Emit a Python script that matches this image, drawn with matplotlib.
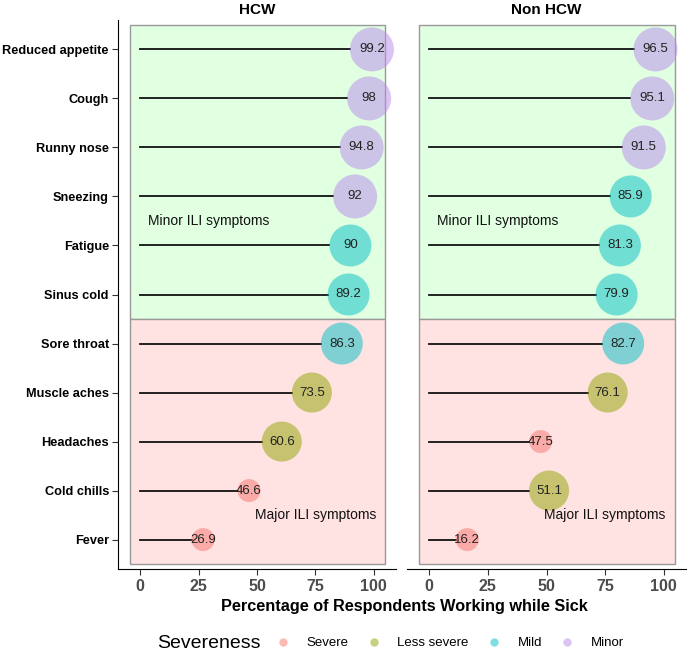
import matplotlib
matplotlib.use('Agg')
import matplotlib.pyplot as plt
from matplotlib.patches import Rectangle
from matplotlib.lines import Line2D

plt.rcParams['font.family'] = ['Liberation Sans', 'DejaVu Sans']

symptoms = ['Reduced appetite', 'Cough', 'Runny nose', 'Sneezing', 'Fatigue',
            'Sinus cold', 'Sore throat', 'Muscle aches', 'Headaches',
            'Cold chills', 'Fever']
hcw_values = [99.2, 98, 94.8, 92, 90, 89.2, 86.3, 73.5, 60.6, 46.6, 26.9]
hcw_severity = ['Minor', 'Minor', 'Minor', 'Minor', 'Mild', 'Mild', 'Mild',
                'Less severe', 'Less severe', 'Severe', 'Severe']
non_values = [96.5, 95.1, 91.5, 85.9, 81.3, 79.9, 82.7, 76.1, 47.5, 51.1, 16.2]
non_severity = ['Minor', 'Minor', 'Minor', 'Mild', 'Mild', 'Mild', 'Mild',
                'Less severe', 'Severe', 'Less severe', 'Severe']
panels = ['HCW', 'Non HCW']
levels = ['Severe', 'Less severe', 'Mild', 'Minor']
xticks = [0, 25, 50, 75, 100]

colors = {'Severe': '#F8766D', 'Less severe': '#8FA300',
          'Mild': '#00BFC4', 'Minor': '#B98AEB'}
# circle diameter in pixels per severity
diam = {'Severe': 23, 'Less severe': 40, 'Mild': 42, 'Minor': 44}
ALPHA = 0.5

fig = plt.figure(figsize=(6.88, 6.63), dpi=100)
ax1 = fig.add_axes([118 / 688, 1 - 569 / 663, 278 / 688, 549 / 663])
ax2 = fig.add_axes([407 / 688, 1 - 569 / 663, 279 / 688, 549 / 663])

n = len(symptoms)
ypos = [n - i for i in range(n)]
xlim = (-9.5, 109.5)

for ax, title, vals, sev in [(ax1, panels[0], hcw_values, hcw_severity),
                             (ax2, panels[1], non_values, non_severity)]:
    ax.set_xlim(*xlim)
    ax.set_ylim(0.4, n + 0.6)
    ax.add_patch(Rectangle((-4.5, 5.5), 109.5, 6, facecolor='#E1FFE1',
                           edgecolor='#999999', lw=1, zorder=0))
    ax.add_patch(Rectangle((-4.5, 0.5), 109.5, 5, facecolor='#FFE2E2',
                           edgecolor='#999999', lw=1, zorder=0))
    px_per_unit = ax.get_position().width * 688 / (xlim[1] - xlim[0])
    for y, v, s in zip(ypos, vals, sev):
        r = diam[s] / 2 / px_per_unit
        ax.plot([0, v - r], [y, y], color='#111111', lw=1.3, zorder=2)
        ax.scatter([v], [y], s=(diam[s] * 0.72) ** 2, color=colors[s],
                   alpha=ALPHA, edgecolors='none', zorder=3, clip_on=False)
        ax.text(v, y, f'{v:g}', ha='center', va='center', fontsize=9.5,
                color='#222222', zorder=4)
    ax.text(3.4, 7.5, 'Minor ILI symptoms', fontsize=10, ha='left',
            va='center', color='#111111')
    ax.text(100.9, 1.5, 'Major ILI symptoms', fontsize=10, ha='right',
            va='center', color='#111111')
    ax.set_title(title, fontsize=11, fontweight='bold', pad=4)
    ax.set_xticks(xticks)
    ax.set_xticklabels([str(t) for t in xticks], fontsize=11.5,
                       fontweight='bold', color='#4D4D4D')
    ax.tick_params(axis='x', length=4, color='#333333', pad=3)
    for sp in ['top', 'right']:
        ax.spines[sp].set_visible(False)
    ax.spines['bottom'].set_color('black')
    ax.set_facecolor('none')

ax1.set_yticks(ypos)
ax1.set_yticklabels(symptoms, fontsize=9.2, fontweight='bold', color='black')
ax1.tick_params(axis='y', length=4, color='#333333', pad=2.5)
ax1.spines['left'].set_color('black')
ax2.set_yticks([])
ax2.spines['left'].set_visible(False)

fig.text(0.5875, 1 - 606 / 663, 'Percentage of Respondents Working while Sick',
         ha='center', va='center', fontsize=11.7, fontweight='bold')

fig.text(157 / 688, 1 - 644 / 663, 'Severeness', ha='left', va='center',
         fontsize=14)
handles = [Line2D([], [], marker='o', linestyle='none', markersize=6,
                  markerfacecolor=colors[l], markeredgecolor='none',
                  alpha=ALPHA) for l in levels]
fig.legend(handles, levels, loc='center left',
           bbox_to_anchor=(263 / 688, 1 - 643 / 663), ncol=4, frameon=False,
           fontsize=9.5, handletextpad=1.2, columnspacing=1.3,
           handlelength=1.2)

fig.savefig('out.png', dpi=100)
